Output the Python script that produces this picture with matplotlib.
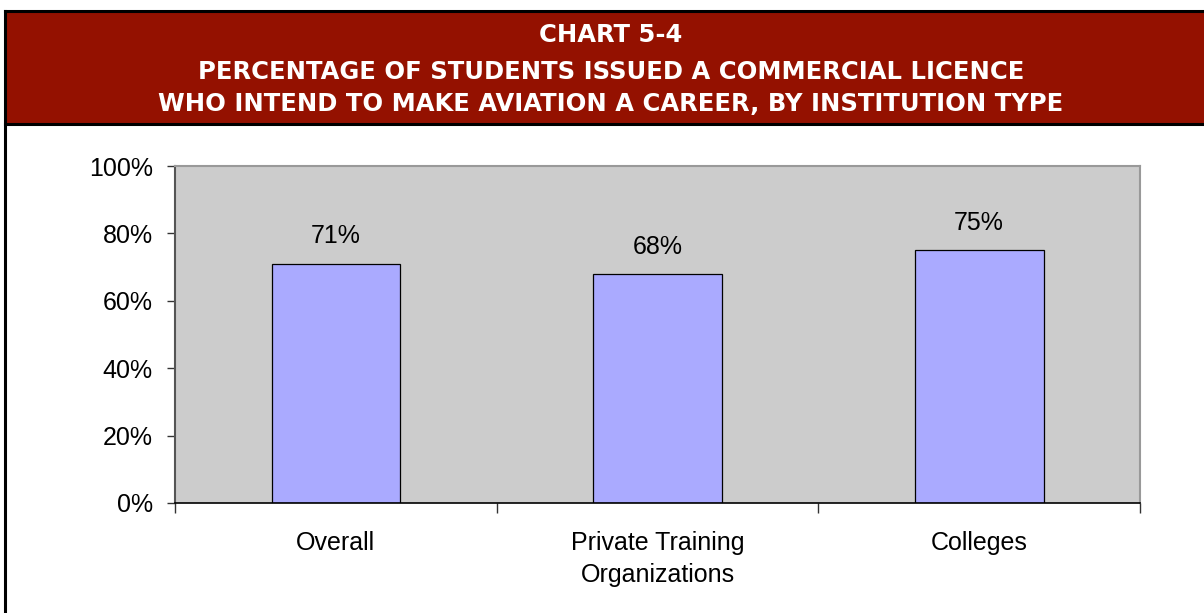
import numpy as np
import matplotlib.pyplot as plt
from matplotlib.patches import Rectangle
from matplotlib.lines import Line2D
from matplotlib.ticker import FixedLocator, PercentFormatter

categories = ["Overall", "Private Training\nOrganizations", "Colleges"]
values = [71, 68, 75]
title_lines = ["CHART 5-4",
               "PERCENTAGE OF STUDENTS ISSUED A COMMERCIAL LICENCE",
               "WHO INTEND TO MAKE AVIATION A CAREER, BY INSTITUTION TYPE"]

W, H = 1204, 613
fig = plt.figure(figsize=(W / 100, H / 100), dpi=100)
plt.rcParams['font.family'] = ['Liberation Sans', 'DejaVu Sans']

def fx(px):
    return px / W

def fy(py):
    return 1 - py / H

# red header band with black frame
fig.patches.append(Rectangle((fx(5), fy(124)), fx(1230), (124 - 11) / H,
                             transform=fig.transFigure, facecolor='#941100',
                             edgecolor='none', zorder=0))
for xs, ys in [((5, 1230), (11, 11)), ((5, 1230), (124, 124)), ((5, 5), (11, 620))]:
    fig.add_artist(Line2D([fx(x) for x in xs], [fy(y) for y in ys],
                          transform=fig.transFigure, color='black', lw=2.2))

for txt, yc in zip(title_lines, [35, 72, 104]):
    fig.text(fx(611), fy(yc), txt, ha='center', va='center', color='white',
             fontsize=17.5, fontweight='bold', family='DejaVu Sans')

ax = fig.add_axes([fx(175), fy(503), fx(1140) - fx(175), (503 - 166) / H])
ax.set_facecolor('#cccccc')
x = np.arange(len(categories))
bars = ax.bar(x, values, width=0.4, color='#aaaaff', edgecolor='black', linewidth=0.9)
for b, v in zip(bars, values):
    ax.annotate(f"{v}%", (b.get_x() + b.get_width() / 2, b.get_height()),
                xytext=(0, 11), textcoords='offset points', ha='center',
                va='bottom', fontsize=18)

ax.set_xlim(-0.5, 2.5)
ax.set_ylim(0, 100)
ax.yaxis.set_major_locator(FixedLocator([0, 20, 40, 60, 80, 100]))
ax.yaxis.set_major_formatter(PercentFormatter(decimals=0))
ax.tick_params(axis='y', labelsize=18, length=6, width=1, color='#333333', pad=10)
ax.set_xticks(x)
ax.set_xticklabels(categories, fontsize=18, linespacing=1.45)
ax.tick_params(axis='x', length=0, pad=20)
ax.set_xticks([-0.5, 0.5, 1.5, 2.5], minor=True)
ax.tick_params(axis='x', which='minor', length=7, width=1, color='#333333')

ax.spines['top'].set_color('#999999')
ax.spines['right'].set_color('#999999')
ax.spines['top'].set_linewidth(1.5)
ax.spines['right'].set_linewidth(1.5)
ax.spines['left'].set_color('#555555')
ax.spines['left'].set_linewidth(1.5)
ax.spines['bottom'].set_color('black')
ax.spines['bottom'].set_linewidth(1.2)

fig.savefig('out.png', dpi=100)
